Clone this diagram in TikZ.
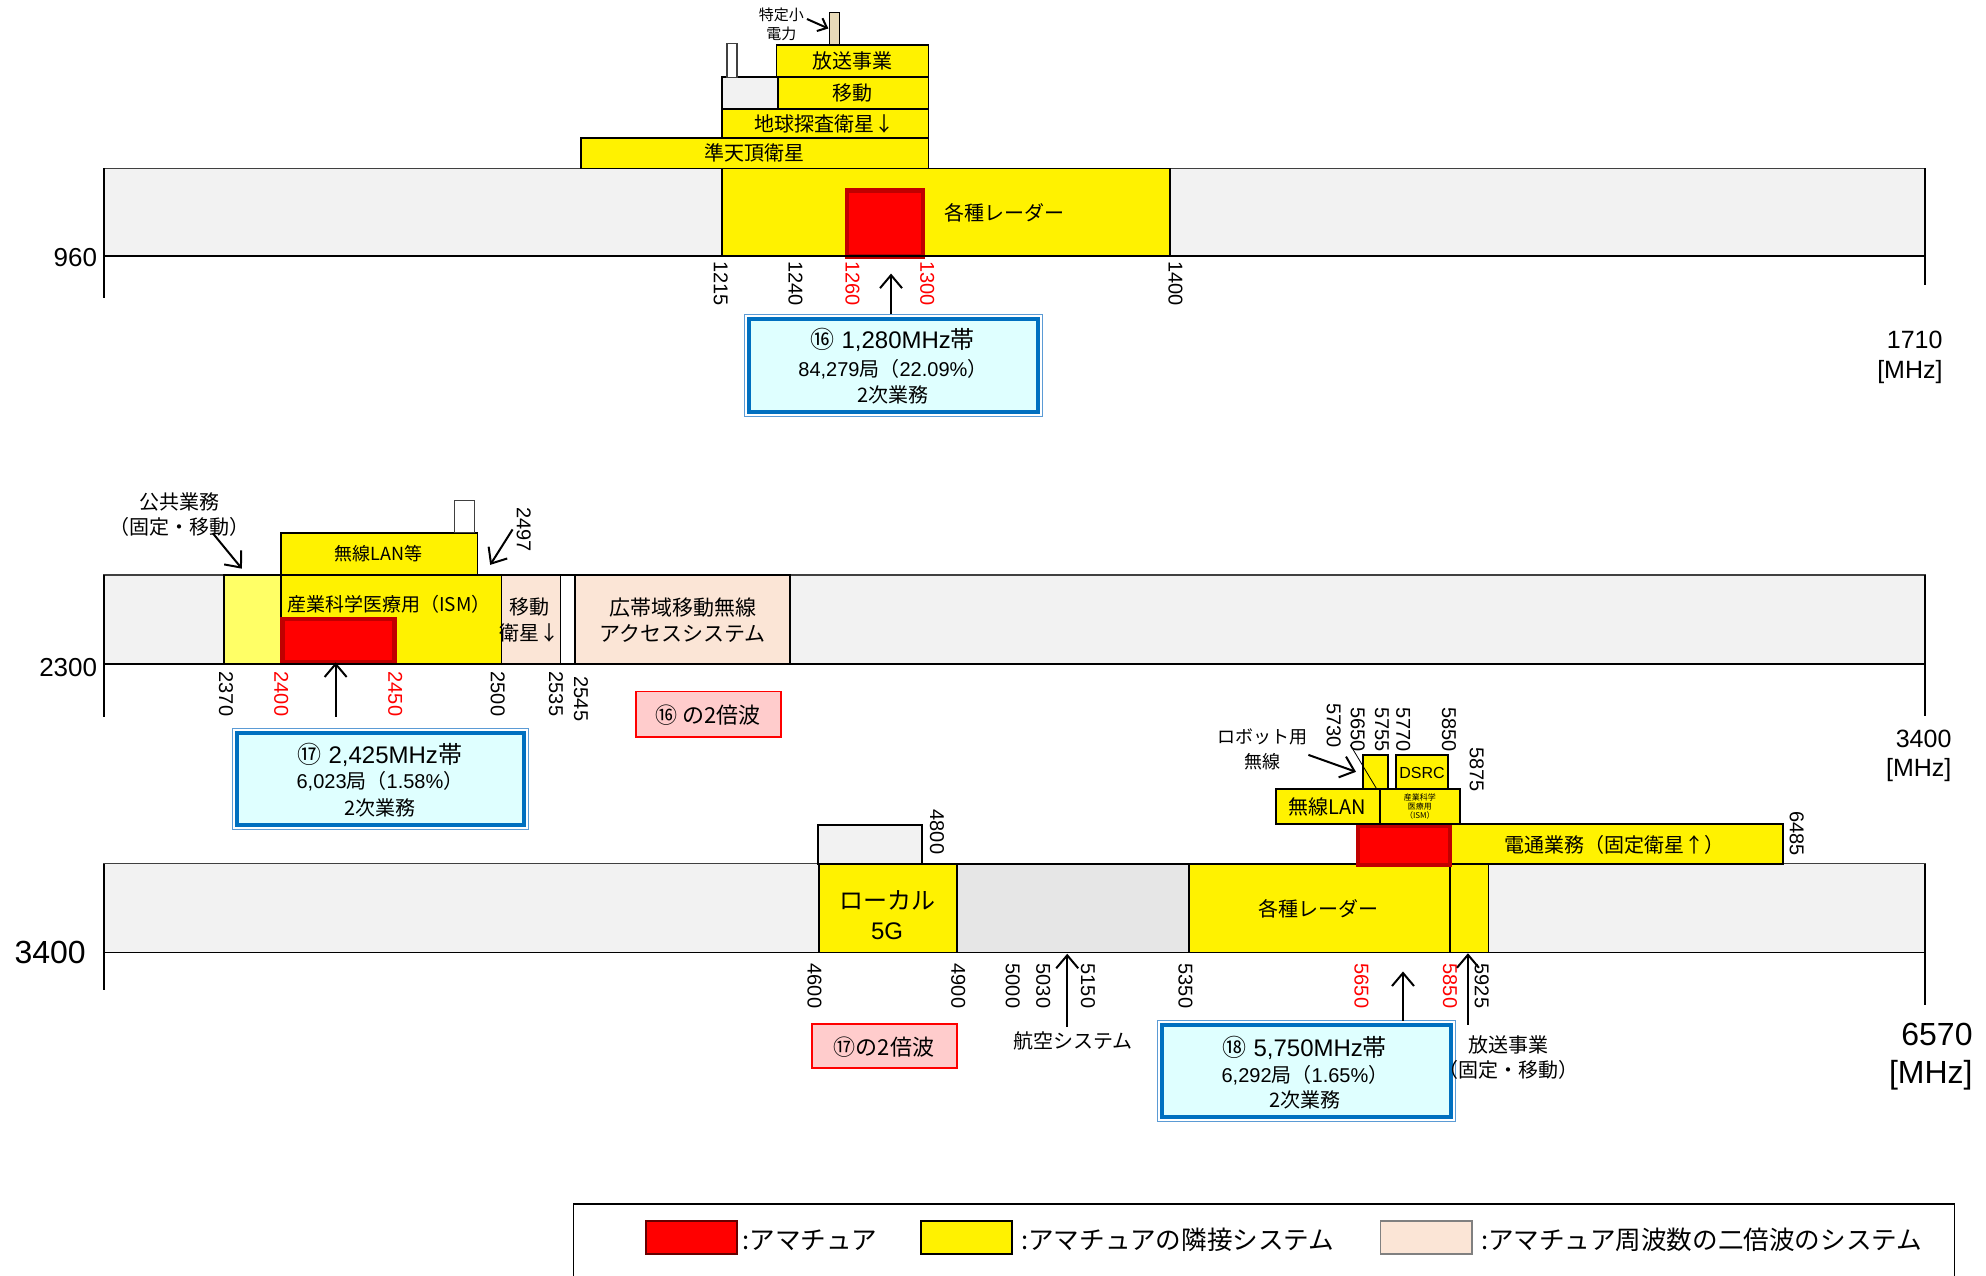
\documentclass[tikz,border=0pt]{standalone}
\usepackage{fontspec}
\setmainfont{Liberation Sans}
\newfontfamily\jp{Noto Sans CJK JP}
\usetikzlibrary{arrows.meta,calc}
\newcommand\fsz[1]{\fontsize{#1}{#1}\selectfont}
\definecolor{bandgray}{HTML}{F2F2F2}
\definecolor{midgray}{HTML}{E6E6E6}
\definecolor{lyel}{HTML}{FFFF66}
\definecolor{peach}{HTML}{FBE5D6}
\definecolor{beige}{HTML}{E8DAB8}
\definecolor{dred}{HTML}{C00000}
\definecolor{ibfill}{HTML}{DFFFFF}
\definecolor{ibblue}{HTML}{0070C0}
\definecolor{iblight}{HTML}{5B9BD5}
\definecolor{pinkf}{HTML}{FFCCCC}
\begin{document}
\begin{tikzpicture}[x=0.6333pt,y=-0.6333pt,
  band/.style={fill=bandgray, draw=black!75, line width=0.6pt},
  yb/.style={fill=yellow, draw=black, line width=0.9pt},
  pb/.style={fill=peach, draw=black, line width=0.9pt},
  amat/.style={fill=red, draw=dred, line width=2.2pt},
  tk/.style={rotate=-90, anchor=west, inner sep=0pt, font=\fsz{10}},
  rtk/.style={tk, text=red},
  lbl/.style={inner sep=0pt, font=\jp\fsz{10}},
  arr/.style={-{Straight Barb[length=6.5pt,width=11pt]}, line width=1pt},
  axl/.style={line width=0.9pt},
  iout/.style={draw=iblight, line width=0.5pt},
  iin/.style={draw=ibblue, fill=ibfill, line width=2pt},
  ib1/.style={inner sep=0pt, font=\fsz{12}},
  ib2/.style={inner sep=0pt, font=\fsz{10}},
  pinkbox/.style={fill=pinkf, draw=red, line width=0.9pt},
  big/.style={inner sep=0pt, font=\fsz{13}},
  bigger/.style={inner sep=0pt, font=\fsz{16}},
  leg/.style={inner sep=0pt, anchor=west, font=\jp\fsz{12.8}}
]
\useasboundingbox (0,0) rectangle (1568,1007);

% ================= Band 1 =================
\path[band] (82,133) rectangle (1520,202);
\path[yb] (570,133) rectangle (924,202);
\node[lbl] (radar1) at (793,168) {各種レーダー};
\path[amat] (668.5,150.5) rectangle (728.5,202.5);
\path[yb] (459,109) rectangle (733,133);
\node[lbl] (qzs) at (596,121) {準天頂衛星};
\path[yb] (570,86) rectangle (733,109);
\node[lbl] (eesat) at (651,97.5) {地球探査衛星↓};
\path[band, draw=black, line width=0.9pt] (570,61) rectangle (614,86);
\path[yb] (614,61) rectangle (733,86);
\node[lbl] (mob1) at (673,73.5) {移動};
\path[yb] (613,35.5) rectangle (733,61);
\node[lbl] (bc1) at (673,48) {放送事業};
\path[fill=white, draw=black!75, line width=0.7pt] (574,34.5) rectangle (582,61);
\path[fill=beige, draw=black, line width=0.7pt] (655,9.7) rectangle (663,35.5);
\node[lbl, font=\jp\fsz{7.5}] (tok1) at (617,12) {特定小};
\node[lbl, font=\jp\fsz{7.5}] (tok2) at (617,26.5) {電力};
\coordinate (tokend) at (654,22.5);
\draw[arr, -{Straight Barb[length=4pt,width=7pt]}] (tok1.east) ++(2,3) -- (tokend);
\draw[axl] (82,133) -- (82,235);
\draw[axl] (82,202) -- (1520,202);
\draw[axl] (1520,133) -- (1520,225);
\node[big, anchor=east] (l960) at (77,203) {960};
\node[tk] (t1215) at (569,206) {1215};
\node[tk] (t1240) at (628,206) {1240};
\node[rtk] (t1260) at (673,206) {1260};
\node[rtk] (t1300) at (732,206) {1300};
\node[tk] (t1400) at (928,206) {1400};
\draw[iout] (588,248) rectangle (823,329);
\draw[iin] (591.5,251.5) rectangle (819.5,325.5);
\node[ib1] (ib16a) at (705,268.5) {{\jp ⑯} 1,280MHz{\jp 帯}};
\node[ib2] (ib16b) at (705,291.5) {84,279{\jp 局（}22.09\%{\jp ）}};
\node[ib2, font=\jp\fsz{10}] (ib16c) at (705,311.5) {2次業務};
\coordinate (ib16top) at (703.5,248);
\coordinate (a16) at (703.5,216);
\draw[arr] (ib16top) -- (a16);
\node[big, anchor=east, font=\fsz{12.5}] (r1710) at (1534,268.5) {1710};
\node[big, anchor=east, font=\fsz{12.5}] (r1710u) at (1534,293.5) {[MHz]};

% ================= Band 2 =================
\path[band] (82,454) rectangle (1520,524);
\path[fill=lyel, draw=black, line width=0.9pt] (177,454) rectangle (222,524);
\path[yb] (222,454) rectangle (396,524);
\node[lbl, font=\jp\fsz{9.5}] (ism2) at (307,477) {産業科学医療用（ISM）};
\path[amat] (223,488.5) rectangle (311.5,522.5);
\path[pb] (396,454) rectangle (442.5,524);
\node[lbl] (ms1) at (418,479) {移動};
\node[lbl] (ms2) at (418,500) {衛星↓};
\path[fill=white, draw=black, line width=0.9pt] (442.5,454) rectangle (454,524);
\path[pb] (454,454) rectangle (624,524);
\node[lbl, font=\jp\fsz{10.5}] (bwa1) at (539,480) {広帯域移動無線};
\node[lbl, font=\jp\fsz{10.5}] (bwa2) at (539,500) {アクセスシステム};
\path[yb] (222,420.6) rectangle (377,454);
\node[lbl, font=\jp\fsz{9}] (wlan2) at (299,437.5) {無線LAN等};
\path[fill=white, draw=black!75, line width=0.7pt] (359,395) rectangle (374.5,420.6);
\node[tk] (t2497) at (413.5,400) {2497};
\coordinate (a2497s) at (404.7,418);
\coordinate (a2497e) at (387,446);
\draw[arr] (a2497s) -- (a2497e);
\node[lbl] (pub1) at (142,396) {公共業務};
\node[lbl] (pub2) at (142,416) {（固定・移動）};
\coordinate (apube) at (191,449);
\draw[arr] (168,421) -- (apube);
\node[tk] (t2370) at (178.5,530) {2370};
\node[rtk] (t2400) at (222,530) {2400};
\node[rtk] (t2450) at (312,530) {2450};
\node[tk] (t2500) at (393,530) {2500};
\node[tk] (t2535) at (439,530) {2535};
\node[tk] (t2545) at (458.7,534) {2545};
\draw[axl] (82,454) -- (82,566);
\draw[axl] (82,524) -- (1520,524);
\draw[axl] (1520,454) -- (1520,565);
\node[big, anchor=east] (l2300) at (77,527) {2300};
\draw[iout] (183.5,575) rectangle (417.5,655);
\draw[iin] (187,578.5) rectangle (414,651.5);
\node[ib1] (ib17a) at (300,596) {{\jp ⑰} 2,425MHz{\jp 帯}};
\node[ib2] (ib17b) at (300,617) {6,023{\jp 局（}1.58\%{\jp ）}};
\node[ib2, font=\jp\fsz{10}] (ib17c) at (300,637.5) {2次業務};
\coordinate (ib17top) at (265,566);
\coordinate (a17) at (265,523);
\draw[arr] (ib17top) -- (a17);
\path[pinkbox] (502,546) rectangle (616.4,581.6);
\node[lbl, font=\jp\fsz{11}] (h16) at (559,564.6) {⑯ の2倍波};
\node[big, anchor=east, font=\fsz{12.5}] (r3400) at (1541,583) {3400};
\node[big, anchor=east, font=\fsz{12.5}] (r3400u) at (1541,608) {[MHz]};

% ================= Band 3 =================
\path[band] (82,682) rectangle (1520,752);
\path[band, draw=black, line width=0.9pt] (645.6,651.4) rectangle (727.7,682);
\path[yb] (646.6,682) rectangle (755.3,752);
\node[lbl, font=\jp\fsz{12}] (l5g1) at (700.4,710.6) {ローカル};
\node[lbl, font=\fsz{12}] (l5g2) at (700.4,735.6) {5G};
\path[fill=midgray, draw=black, line width=0.9pt] (755.3,682) rectangle (938.8,752);
\path[yb] (938.8,682) rectangle (1145,752);
\node[lbl] (radar3) at (1041,717.7) {各種レーダー};
\path[yb] (1145,682) rectangle (1175.2,752);
\path[yb] (1145.6,650.6) rectangle (1407.6,682);
\node[lbl] (den) at (1275,667) {電通業務（固定衛星↑）};
\path[amat] (1072,651.6) rectangle (1144.6,682.7);
\path[yb] (1007.5,623) rectangle (1089.5,650.6);
\node[lbl] (wlan3) at (1048,637) {無線LAN};
\path[yb] (1089.5,623) rectangle (1152.7,650.6);
\node[lbl, font=\jp\fsz{4}] (ism3a) at (1121,629.5) {産業科学};
\node[lbl, font=\jp\fsz{4}] (ism3b) at (1121,636.5) {医療用};
\node[lbl, font=\jp\fsz{4}] (ism3c) at (1121,643.5) {（ISM）};
\path[yb] (1076,596) rectangle (1096,623);
\path[yb] (1102,596) rectangle (1143.5,623);
\node[lbl, font=\fsz{8}] (dsrc) at (1122.7,610) {DSRC};
\draw[line width=0.4pt] (1066,588) -- (1087,623);
\node[tk] (t5730) at (1053,555) {5730};
\node[tk] (t5650a) at (1072,558) {5650};
\node[tk] (t5755) at (1091,558) {5755};
\node[tk] (t5770) at (1108,558) {5770};
\node[tk] (t5850a) at (1144,558) {5850};
\node[tk] (t5875) at (1166,589.5) {5875};
\node[tk] (t4800) at (739.8,639) {4800};
\node[tk] (t6485) at (1418.6,640) {6485};
\node[lbl, font=\jp\fsz{9}] (rob1) at (997,582) {ロボット用};
\node[lbl, font=\jp\fsz{9}] (rob2) at (997,601.5) {無線};
\coordinate (arobe) at (1070.6,609.4);
\draw[arr] (1033,596) -- (arobe);
\node[tk] (t4600) at (643,760.5) {4600};
\node[tk] (t4900) at (756.5,760.5) {4900};
\node[tk] (t5000) at (799.5,760.5) {5000};
\node[tk] (t5030) at (823.6,760.5) {5030};
\node[tk] (t5150) at (859,760.5) {5150};
\node[tk] (t5350) at (936,760.5) {5350};
\node[rtk] (t5650) at (1075,760.5) {5650};
\node[rtk] (t5850) at (1144.8,760.5) {5850};
\node[tk] (t5925) at (1169.8,760.5) {5925};
\draw[axl] (82,682) -- (82,782);
\draw[axl] (82,752) -- (1520,752);
\draw[axl] (1520,682) -- (1520,793.5);
\node[bigger, anchor=east] (l3400) at (68,752) {3400};
\node[lbl] (aero) at (847,821.6) {航空システム};
\coordinate (aaero) at (842.6,753);
\draw[arr] (842.6,811) -- (aaero);
\path[pinkbox] (640.8,808.5) rectangle (755.3,843.3);
\node[lbl, font=\jp\fsz{11}] (h17) at (698,826.7) {⑰の2倍波};
\draw[iout] (914,805.8) rectangle (1148.8,885.6);
\draw[iin] (917.5,809.3) rectangle (1145.3,882.1);
\node[ib1] (ib18a) at (1030.3,827) {{\jp ⑱} 5,750MHz{\jp 帯}};
\node[ib2] (ib18b) at (1030.3,848.7) {6,292{\jp 局（}1.65\%{\jp ）}};
\node[ib2, font=\jp\fsz{10}] (ib18c) at (1030.3,868.5) {2次業務};
\coordinate (ib18top) at (1107.7,806);
\coordinate (a18) at (1107.7,767);
\draw[arr] (ib18top) -- (a18);
\node[lbl] (bc3a) at (1190.7,825) {放送事業};
\node[lbl] (bc3b) at (1190.7,845) {（固定・移動）};
\coordinate (abc3) at (1159,752.6);
\draw[arr] (1159,809) -- (abc3);
\node[bigger, anchor=east] (r6570) at (1557.7,817) {6570};
\node[bigger, anchor=east] (r6570u) at (1557.7,849) {[MHz]};

% ================= Legend =================
\draw[line width=0.7pt] (453,1012) -- (453,950.5);
\draw[line width=1.3pt] (452.5,950.5) -- (1543.5,950.5);
\draw[line width=0.7pt] (1543,950.5) -- (1543,1012);
\path[fill=red, draw=black!60!red, line width=0.9pt] (510,964) rectangle (582,990);
\node[leg] (lg1) at (586,979) {:アマチュア};
\path[fill=yellow, draw=black, line width=0.9pt] (727,964) rectangle (799,990);
\node[leg] (lg2) at (806,979) {:アマチュアの隣接システム};
\path[fill=peach, draw=black!50, line width=0.9pt] (1090,964) rectangle (1162,990);
\node[leg] (lg3) at (1169,979) {:アマチュア周波数の二倍波のシステム};
\end{tikzpicture}
\end{document}
